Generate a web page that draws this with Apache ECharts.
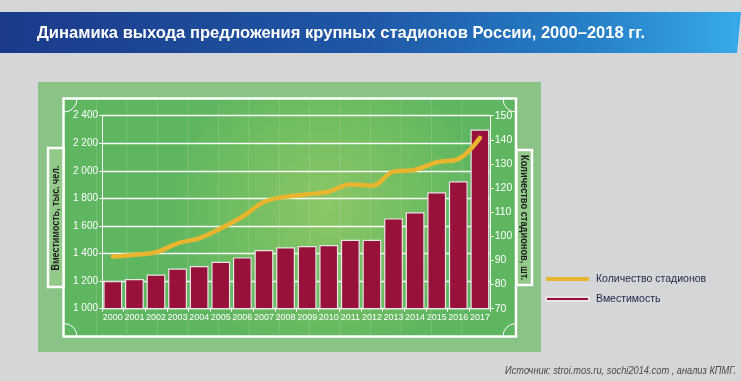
<!DOCTYPE html>
<html>
<head>
<meta charset="utf-8">
<script src="https://cdn.jsdelivr.net/npm/echarts@6/dist/echarts.min.js"></script>
<style>
html,body{margin:0;padding:0;background:#d5d6d8;}
#c{width:741px;height:381px;}
</style>
</head>
<body>
<div id="c"></div>
<script>
const years = ['2000','2001','2002','2003','2004','2005','2006','2007','2008','2009','2010','2011','2012','2013','2014','2015','2016','2017'];
const capacity = [1200, 1215, 1248, 1292, 1310, 1340, 1372, 1425, 1445, 1455, 1462, 1500, 1500, 1655, 1700, 1845, 1925, 2300];
const stadiums = [91.6, 92.4, 93.4, 97.1, 99.2, 103.3, 108.1, 114.2, 116.4, 117.4, 118.5, 121.5, 121.0, 126.8, 127.6, 130.7, 132.1, 140.8];
const titleText = 'Динамика выхода предложения крупных стадионов России, 2000–2018 гг.';
const leftAxisName = 'Вместимость, тыс. чел.';
const rightAxisName = 'Количество стадионов, шт.';
const seriesNames = ['Количество стадионов', 'Вместимость'];
const sourceText = 'Источник: stroi.mos.ru, sochi2014.com , анализ КПМГ.';

const FONT = "'Liberation Sans', Arial, sans-serif";

const measureCtx = document.createElement('canvas').getContext('2d');
function fitScale(text, font, target) {
  measureCtx.font = font;
  const w = measureCtx.measureText(text).width;
  return w > 0 ? Math.min(1.2, target / w) : 1;
}

const chart = echarts.init(document.getElementById('c'), null, {renderer: 'canvas'});

function fmtThousands(v) {
  if (v >= 1000) return Math.floor(v / 1000) + ' ' + String(v % 1000).padStart(3, '0');
  return String(v);
}

// decorative field stripes
const stripes = [];
for (let k = -1; k <= 11; k++) {
  const x = 127 + k * 30.45;
  stripes.push({
    type: 'line', z: -8, silent: true,
    shape: {x1: x, y1: 100, x2: x, y2: 335},
    style: {stroke: 'rgba(255,255,255,0.13)', lineWidth: 1}
  });
}

const titleFont = "bold 17px " + FONT;
const nameFont = "bold 10.5px " + FONT;
const sourceFont = "italic 10px " + FONT;

const graphics = [
  // banner
  {type: 'polygon', z: -10, silent: true,
   shape: {points: [[0, 12], [741, 12], [737, 53], [0, 53]]},
   style: {fill: new echarts.graphic.LinearGradient(0, 0, 1, 0, [
     {offset: 0, color: '#1b3a8a'},
     {offset: 0.5, color: '#1f58a6'},
     {offset: 0.8, color: '#2680c8'},
     {offset: 1, color: '#37aae9'}
   ])}},
  // outer green panel
  {type: 'rect', z: -10, silent: true,
   shape: {x: 38, y: 82, width: 503, height: 270},
   style: {fill: '#89c385'}},
  // field interior
  {type: 'rect', z: -9, silent: true,
   shape: {x: 64, y: 99, width: 452, height: 238},
   style: {fill: new echarts.graphic.RadialGradient(0.58, 0.45, 0.65, [
     {offset: 0, color: '#8bc765'},
     {offset: 1, color: '#5fb660'}
   ])}},
  ...stripes,
  // field border
  {type: 'rect', z: -7, silent: true,
   shape: {x: 63.5, y: 98.5, width: 452.5, height: 238},
   style: {fill: 'none', stroke: '#ffffff', lineWidth: 2.5}},
  // corner arcs
  {type: 'arc', z: -7, silent: true, shape: {cx: 64, cy: 99, r: 13, startAngle: 0, endAngle: Math.PI / 2},
   style: {stroke: '#ffffff', lineWidth: 1, fill: 'none'}},
  {type: 'arc', z: -7, silent: true, shape: {cx: 516, cy: 99, r: 13, startAngle: Math.PI / 2, endAngle: Math.PI},
   style: {stroke: '#ffffff', lineWidth: 1, fill: 'none'}},
  {type: 'arc', z: -7, silent: true, shape: {cx: 64, cy: 336.5, r: 13, startAngle: Math.PI * 1.5, endAngle: Math.PI * 2},
   style: {stroke: '#ffffff', lineWidth: 1, fill: 'none'}},
  {type: 'arc', z: -7, silent: true, shape: {cx: 516, cy: 336.5, r: 13, startAngle: Math.PI, endAngle: Math.PI * 1.5},
   style: {stroke: '#ffffff', lineWidth: 1, fill: 'none'}},
  // left axis name box
  {type: 'rect', z: 10, silent: true,
   shape: {x: 48, y: 148, width: 15.5, height: 139},
   style: {fill: '#93ca8a', stroke: '#ffffff', lineWidth: 2.5}},
  {type: 'text', z: 11, silent: true,
   x: 56.5, y: 218, rotation: Math.PI / 2,
   scaleX: fitScale(leftAxisName, nameFont, 105),
   style: {text: leftAxisName, fill: '#1c1c1c', font: nameFont,
           align: 'center', verticalAlign: 'middle'}},
  // right axis name box
  {type: 'rect', z: 10, silent: true,
   shape: {x: 516.5, y: 150, width: 15.5, height: 135},
   style: {fill: '#93ca8a', stroke: '#ffffff', lineWidth: 2.5}},
  {type: 'text', z: 11, silent: true,
   x: 524, y: 217.5, rotation: -Math.PI / 2,
   scaleX: fitScale(rightAxisName, nameFont, 125),
   style: {text: rightAxisName, fill: '#1c1c1c', font: nameFont,
           align: 'center', verticalAlign: 'middle'}},
  // title
  {type: 'text', z: 11, silent: true,
   x: 37, y: 33,
   scaleX: fitScale(titleText, titleFont, 608),
   style: {text: titleText, fill: '#ffffff', font: titleFont,
           align: 'left', verticalAlign: 'middle'}},
  // source
  {type: 'text', z: 11, silent: true,
   x: 736, y: 371,
   scaleX: fitScale(sourceText, sourceFont, 231),
   style: {text: sourceText, fill: '#4a4a4c', font: sourceFont,
           align: 'right', verticalAlign: 'middle'}}
];

chart.setOption({
  animation: false,
  backgroundColor: '#d5d6d8',
  graphic: graphics,
  legend: {
    orient: 'vertical',
    left: 545, top: 273.5, padding: 0,
    itemWidth: 43, itemHeight: 4, itemGap: 9,
    icon: 'rect',
    data: seriesNames,
    textStyle: {color: '#1d2748', fontSize: 10.5, fontFamily: FONT, padding: [0, 0, 0, 2]}
  },
  grid: {left: 102, right: 250.3, top: 115.7, bottom: 72.3, containLabel: false},
  xAxis: {
    type: 'category', data: years, boundaryGap: true,
    axisLine: {lineStyle: {color: '#ffffff', width: 1}},
    axisTick: {show: true, alignWithLabel: false, length: 3, lineStyle: {color: '#ffffff'}},
    axisLabel: {color: '#ffffff', fontSize: 9, fontFamily: FONT, margin: 4, interval: 0},
    splitLine: {show: false}
  },
  yAxis: [
    {
      type: 'value', min: 1000, max: 2400, interval: 200, position: 'left',
      axisLine: {show: true, lineStyle: {color: '#ffffff', width: 1}},
      axisTick: {show: true, length: 3, lineStyle: {color: '#ffffff'}},
      axisLabel: {color: '#ffffff', fontSize: 10, fontFamily: FONT, margin: 4, formatter: fmtThousands},
      splitLine: {show: true, lineStyle: {color: 'rgba(255,255,255,0.95)', width: 1.3}}
    },
    {
      type: 'value', min: 70, max: 150, interval: 10, position: 'right',
      axisLine: {show: true, lineStyle: {color: '#ffffff', width: 1}},
      axisTick: {show: true, length: 3, lineStyle: {color: '#ffffff'}},
      axisLabel: {color: '#ffffff', fontSize: 10.5, fontFamily: FONT, margin: 4},
      splitLine: {show: false}
    }
  ],
  series: [
    {
      name: seriesNames[1], type: 'bar', yAxisIndex: 0, data: capacity,
      barWidth: '87%', z: 2,
      itemStyle: {color: '#98113a', borderColor: '#e6e6e6', borderWidth: 1.2}
    },
    {
      name: seriesNames[0], type: 'line', yAxisIndex: 1, data: stadiums,
      smooth: 0.4, showSymbol: false, symbol: 'none', z: 3,
      lineStyle: {color: '#e8b52f', width: 4.5, cap: 'round'},
      itemStyle: {color: '#e8b52f'}
    }
  ]
});
</script>
</body>
</html>
